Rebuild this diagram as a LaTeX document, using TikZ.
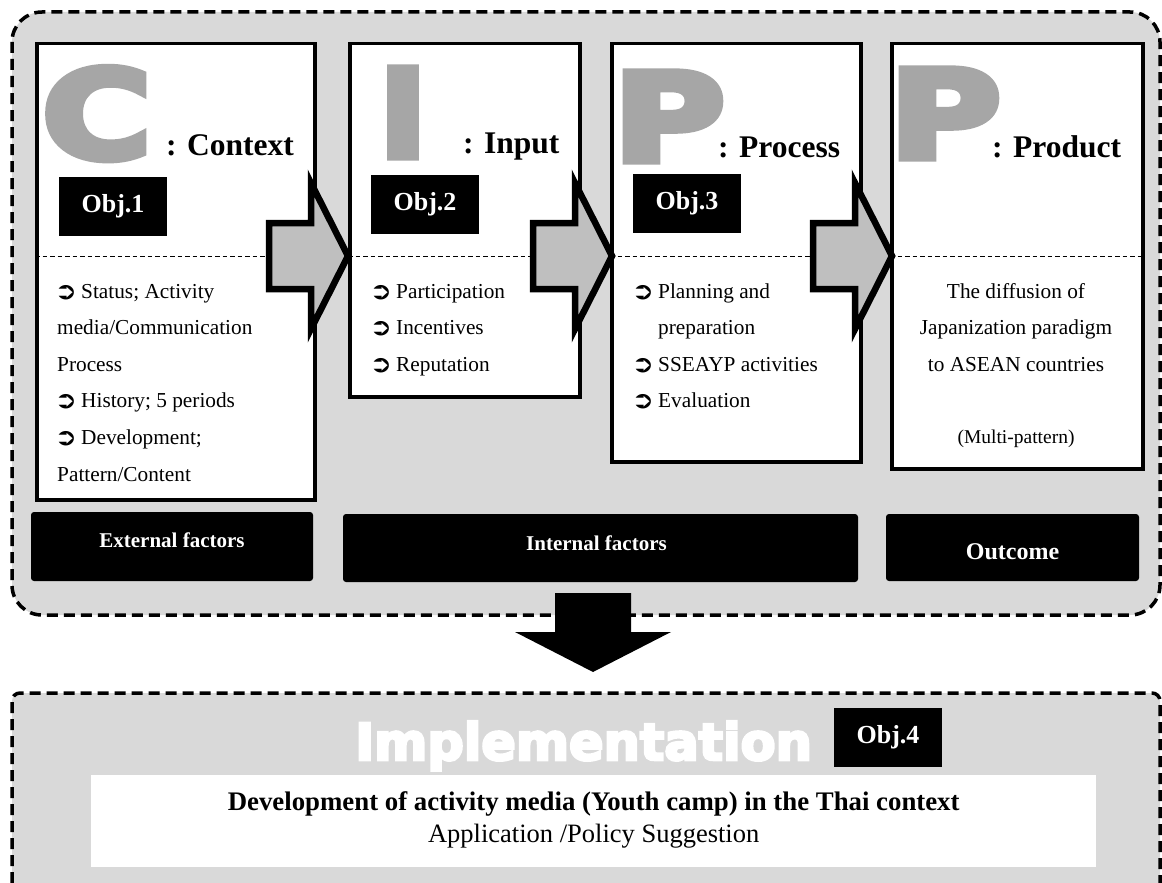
\documentclass[tikz,border=0pt]{standalone}
\usepackage{fontspec}
\setmainfont{Liberation Serif}
\newfontfamily\heavyfont{DejaVu Sans Bold}[FakeBold=6]
\newfontfamily\bannerfont{DejaVu Sans Bold}[FakeBold=5]
\newfontfamily\dingfont{DejaVu Sans Bold}
\usetikzlibrary{calc}

\definecolor{panelgray}{HTML}{D9D9D9}
\definecolor{lettergray}{HTML}{A6A6A6}
\definecolor{arrowgray}{HTML}{BFBFBF}

\newcommand\setfs[1]{\fontsize{#1}{#1}\selectfont}
\newcommand\bul{\makebox[24pt][l]{\hspace*{-2.5pt}\raisebox{-1pt}{\scalebox{1.12}[1]{\dingfont\fontsize{24}{24}\selectfont ➲}}}}

% block arrow whose tip sits on the given coordinate
\newcommand\stagearrow[2]{%
  \draw[flowarrow] (#2) -- ++(-37,-73) -- ++(0,40) -- ++(-42,0)
    -- ++(0,66) -- ++(42,0) -- ++(0,40) -- cycle;
  \coordinate (#1) at (#2);}

\tikzset{
  rim/.style={line width=3.5pt, dash pattern=on 11pt off 6pt},
  stagebox/.style={draw, line width=3.5pt, fill=white, inner sep=0pt, anchor=north west},
  divider/.style={line width=0.8pt, dash pattern=on 4.5pt off 3pt},
  flowarrow/.style={draw, line width=6.5pt, line join=miter, fill=arrowgray},
  objtag/.style={fill=black, text=white, font=\bfseries\setfs{26},
    minimum width=108pt, minimum height=59pt, inner sep=0pt},
  factortag/.style={fill=black, rounded corners=3pt, inner sep=0pt},
  factortext/.style={text=white, font=\bfseries\setfs{21}, inner sep=0pt},
  bigletter/.style={text=lettergray, font=\heavyfont\setfs{122}, inner sep=0pt, anchor=base west},
  stagetitle/.style={font=\bfseries\setfs{31.5}, inner sep=0pt, anchor=base west},
  listline/.style={font=\setfs{21.3}, inner sep=0pt, anchor=base west},
  centreline/.style={font=\setfs{21.3}, inner sep=0pt, anchor=base},
}

\begin{document}
\begin{tikzpicture}[x=1pt,y=-1pt]
\useasboundingbox (0,0) rectangle (1162,883);
\clip (0,0) rectangle (1162,883);

% ---------- CIPP panel ----------
\draw[rim, fill=panelgray, rounded corners=30pt] (12,12) rectangle (1160,615);

\node[stagebox, minimum width=278pt, minimum height=456pt] (ctx) at (35,42) {};
\node[stagebox, minimum width=230pt, minimum height=353pt] (inp) at (348,42) {};
\node[stagebox, minimum width=249pt, minimum height=418pt] (prc) at (610,42) {};
\node[stagebox, minimum width=251pt, minimum height=425pt] (prd) at (890,42) {};

\coordinate (sepy) at (0,256);
\foreach \b in {ctx,inp,prc,prd}
  \draw[divider] (\b.west |- sepy) -- (\b.east |- sepy);

% big initials and stage titles
\node[bigletter] (bigC) at (42,158) {\scalebox{1.22}[1]{C}};
\node[bigletter] (bigI) at (379,157) {\scalebox{1.05}[1]{I}};
\node[bigletter] (bigP1) at (613,161) {\scalebox{1.25}[1]{P}};
\node[bigletter] (bigP2) at (889,158) {\scalebox{1.25}[1]{P}};

\node[stagetitle] (tC) at (166,155) {: Context};
\node[stagetitle] (tI) at (463,153) {: Input};
\node[stagetitle] (tP1) at (718,157) {: Process};
\node[stagetitle] (tP2) at (992,157) {: Product};

\node[objtag] (obj1) at (113,206) {Obj.1};
\node[objtag] (obj2) at (425,204.5) {Obj.2};
\node[objtag] (obj3) at (687,203.5) {Obj.3};

% stage contents
\node[listline] (c1) at (57,298) {\bul Status; Activity};
\node[listline] (c2) at (57,334.6) {media/Communication};
\node[listline] (c3) at (57,371.2) {Process};
\node[listline] (c4) at (57,407.8) {\bul History; 5 periods};
\node[listline] (c5) at (57,444.4) {\bul Development;};
\node[listline] (c6) at (57,481) {Pattern/Content};

\node[listline] (i1) at (372,298) {\bul Participation};
\node[listline] (i2) at (372,334.6) {\bul Incentives};
\node[listline] (i3) at (372,371.2) {\bul Reputation};

\node[listline] (p1) at (634,298) {\bul Planning and};
\node[listline] (p2) at (658,334.6) {preparation};
\node[listline] (p3) at (634,371.2) {\bul SSEAYP activities};
\node[listline] (p4) at (634,407.8) {\bul Evaluation};

\node[centreline] (d1) at (1016,298) {The diffusion of};
\node[centreline] (d2) at (1016,334.6) {Japanization paradigm};
\node[centreline] (d3) at (1016,371.2) {to ASEAN countries};
\node[centreline, font=\setfs{19.5}] (d4) at (1016,443) {(Multi-pattern)};

% arrows between stages
\stagearrow{a1}{$(inp.west |- sepy)+(0,0)$}
\stagearrow{a2}{$(prc.west |- sepy)+(2,0)$}
\stagearrow{a3}{$(prd.west |- sepy)+(2,0)$}

% factor labels
\node[factortag, minimum width=282pt, minimum height=69pt] (ext) at (172,546.5) {};
\node[factortext] at ($(ext.center)+(0,-6)$) {External factors};
\node[factortag, minimum width=515pt, minimum height=68pt] (int) at (600.5,548) {};
\node[factortext] at ($(int.center)+(-4,-5)$) {Internal factors};
\node[factortag, minimum width=253pt, minimum height=67pt] (out) at (1012.5,547.5) {};
\node[factortext, font=\bfseries\setfs{24}] at ($(out.center)+(0,4)$) {Outcome};

% ---------- implementation panel ----------
\fill[panelgray, rounded corners=8pt] (12,693) -- (1160,693) -- (1160,900) -- (12,900) -- cycle;
\draw[rim, rounded corners=8pt] (12,900) -- (12,693) -- (1160,693) -- (1160,900);

% big arrow from the CIPP panel down to the implementation panel
\coordinate (downtop) at (593,593);
\coordinate (downtip) at (593,672);
\fill (downtop) ++(-38,0) -- ++(76,0) -- ++(0,39) -- ++(40,0) -- (downtip)
  -- ++(-78,-40) -- ++(40,0) -- cycle;

\node[anchor=base west, inner sep=0pt, text=white, font=\bannerfont\setfs{51}] (impl) at (355,760) {Implementation};
\node[objtag] (obj4) at (888,737.5) {Obj.4};

\node[fill=white, minimum width=1005pt, minimum height=92pt, inner sep=0pt, anchor=north west] (apply) at (91,775) {};
\node[anchor=base, inner sep=0pt, font=\bfseries\setfs{26.8}] (dev) at ($(apply.north)+(0,35)$) {Development of activity media (Youth camp) in the Thai context};
\node[anchor=base, inner sep=0pt, font=\setfs{26.5}] (sug) at ($(apply.north)+(0,67)$) {Application /Policy Suggestion};
\end{tikzpicture}
\end{document}
